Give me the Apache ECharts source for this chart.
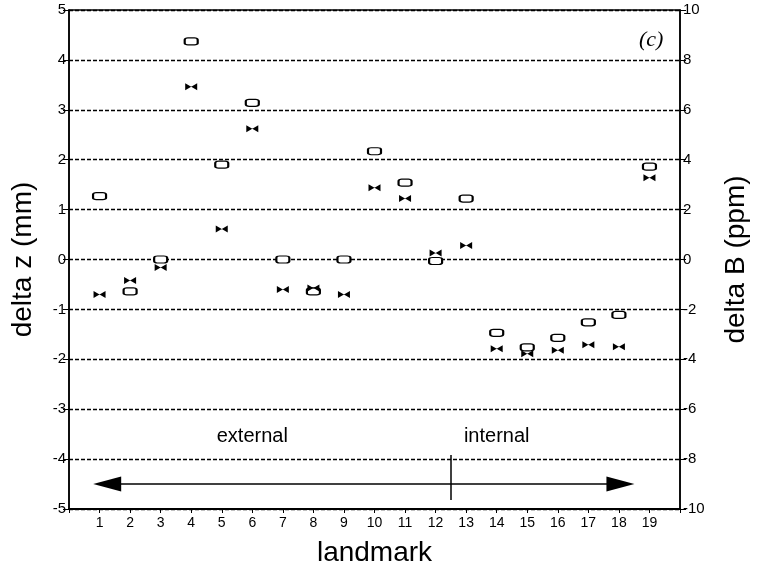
<!DOCTYPE html>
<html>
<head>
<meta charset="utf-8">
<script src="https://cdn.jsdelivr.net/npm/echarts@6/dist/echarts.min.js"></script>
<style>
  html, body { margin: 0; padding: 0; background: #fff; }
  #chart { width: 760px; height: 575px; }
</style>
</head>
<body>
<div id="chart"></div>
<script>
// landmark numbers
const landmarks = [1, 2, 3, 4, 5, 6, 7, 8, 9, 10, 11, 12, 13, 14, 15, 16, 17, 18, 19];
// delta z (mm), open rectangles
const deltaZ = [1.27, -0.64, 0.0, 4.37, 1.9, 3.14, 0.0, -0.64, 0.0, 2.17, 1.54, -0.03, 1.22, -1.47, -1.76, -1.57, -1.26, -1.11, 1.86];
// delta B (ppm), bow-tie markers
const deltaB = [-1.4, -0.84, -0.32, 6.92, 1.22, 5.24, -1.2, -1.14, -1.4, 2.88, 2.44, 0.26, 0.56, -3.58, -3.78, -3.64, -3.42, -3.5, 3.28];
// region annotation
const regionLabels = ['external', 'internal'];
const regionSplit = 12.5;
const arrowRange = [1.25, 18.05];
const arrowLevel = -4.5;

const chart = echarts.init(document.getElementById('chart'));
const font = "'Liberation Sans', Arial, sans-serif";

const option = {
  backgroundColor: '#fff',
  animation: false,
  grid: {
    left: 69, right: 80, top: 10, bottom: 66,
    show: true, borderColor: '#000', borderWidth: 1.5
  },
  xAxis: {
    type: 'value',
    min: 0, max: 20, interval: 1,
    name: 'landmark',
    nameLocation: 'middle',
    nameGap: 30,
    nameTextStyle: { fontSize: 28, color: '#000', fontFamily: font },
    axisLine: { onZero: false, lineStyle: { color: '#000', width: 2 } },
    axisTick: { length: 4, lineStyle: { color: '#000' } },
    axisLabel: {
      color: '#000', fontSize: 14, fontFamily: font, margin: 7,
      formatter: v => (v >= 1 && v <= 19 ? String(v) : '')
    },
    splitLine: { show: false }
  },
  yAxis: [
    {
      type: 'value',
      min: -5, max: 5, interval: 1,
      name: 'delta z (mm)',
      nameLocation: 'middle',
      nameRotate: 90,
      nameGap: 32,
      nameTextStyle: { fontSize: 28, color: '#000', fontFamily: font },
      axisLine: { show: true, onZero: false, lineStyle: { color: '#000', width: 1.5 } },
      axisTick: { show: true, length: 6, lineStyle: { color: '#000' } },
      axisLabel: { color: '#000', fontSize: 15, fontFamily: font, margin: 3 },
      splitLine: {
        show: true,
        lineStyle: { color: '#000', type: [4, 2], width: 1.3 }
      }
    },
    {
      type: 'value',
      position: 'right',
      min: -10, max: 10, interval: 2,
      name: 'delta B (ppm)',
      nameLocation: 'middle',
      nameRotate: 90,
      nameGap: 42,
      nameTextStyle: { fontSize: 28, color: '#000', fontFamily: font },
      axisLine: { show: true, onZero: false, lineStyle: { color: '#000', width: 1.5 } },
      axisTick: { show: true, length: 6, lineStyle: { color: '#000' } },
      axisLabel: { color: '#000', fontSize: 15, fontFamily: font, margin: 3 },
      splitLine: { show: false }
    }
  ],
  graphic: [
    {
      type: 'text', left: 639, top: 29,
      style: { text: '(c)', fontSize: 22, fontStyle: 'italic', fontFamily: "'Liberation Serif', 'DejaVu Serif', serif", fill: '#000' }
    }
  ],
  series: [
    {
      name: 'delta z',
      type: 'scatter',
      yAxisIndex: 0,
      symbol: 'roundRect',
      symbolSize: [13, 7],
      itemStyle: { color: '#fff', borderColor: '#000', borderWidth: 1.6, opacity: 1 },
      data: landmarks.map((x, i) => [x, deltaZ[i]]),
      z: 3,
      markLine: {
        silent: true,
        animation: false,
        label: { show: false },
        data: [
          [
            { coord: [arrowRange[0], arrowLevel], symbol: 'triangle', symbolSize: [15, 28] },
            { coord: [arrowRange[1], arrowLevel], symbol: 'triangle', symbolSize: [15, 28] }
          ],
          [
            { coord: [regionSplit, -3.92], symbol: 'none' },
            { coord: [regionSplit, -4.82], symbol: 'none' }
          ]
        ],
        lineStyle: { color: '#000', width: 1.5, type: 'solid' },
        itemStyle: { color: '#000' }
      },
      markPoint: {
        silent: true,
        symbol: 'rect',
        symbolSize: 0,
        data: [
          { coord: [6.0, -3.55], value: regionLabels[0] },
          { coord: [14.0, -3.55], value: regionLabels[1] }
        ],
        label: { show: true, color: '#000', fontSize: 20, fontFamily: font, formatter: p => p.value }
      }
    },
    {
      name: 'delta B',
      type: 'scatter',
      yAxisIndex: 1,
      symbol: 'path://M0,0 L10,6 L10,0 L0,6 Z',
      symbolSize: [12, 7],
      itemStyle: { color: '#000', opacity: 1 },
      data: landmarks.map((x, i) => [x, deltaB[i]]),
      z: 4
    }
  ]
};

chart.setOption(option);
</script>
</body>
</html>
